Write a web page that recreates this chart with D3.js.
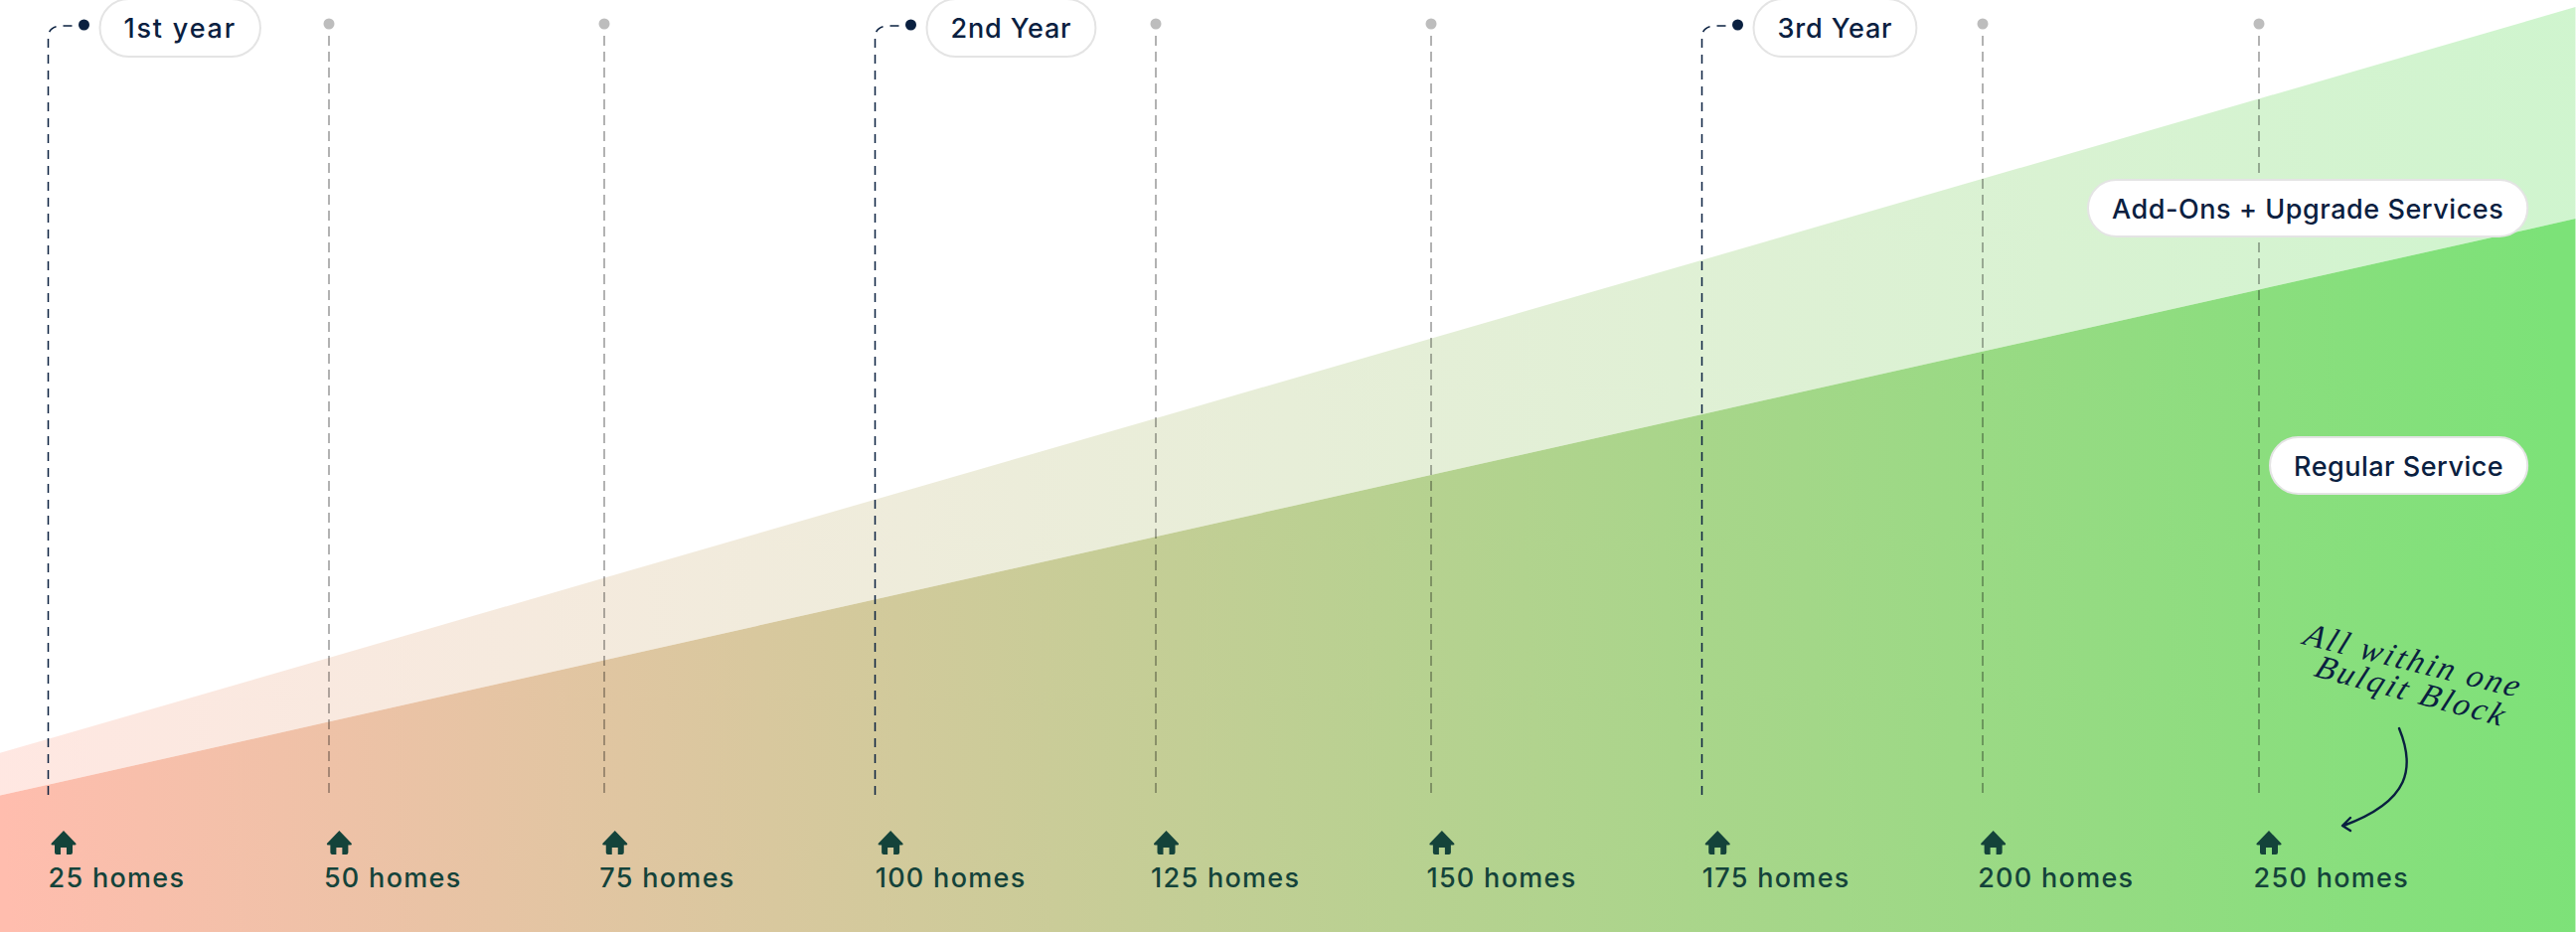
<!DOCTYPE html>
<html><head><meta charset="utf-8">
<script src="https://cdn.jsdelivr.net/npm/d3@7"></script>
<style>html,body{margin:0;padding:0;background:#fff}svg{display:block}text{font-family:Inter,"Noto Sans",sans-serif}</style>
</head><body><div id="c"></div>
<script>
const homeLabels = ["25 homes","50 homes","75 homes","100 homes","125 homes","150 homes","175 homes","200 homes","250 homes"];
const yearLabels = {0:"1st year",3:"2nd Year",6:"3rd Year"};
// positions along the category axis (index of tick), including the two chart edges
const stepPositions = [-0.177,0,1,2,3,4,5,6,7,8,9.168];
const regularService = [137.3,148.3,210.4,272.6,334.7,396.8,459.0,521.1,583.2,645.3,717.9];
const withAddOns = [180,194.2,274.6,354.9,435.3,515.6,596,676.3,756.7,837,930.9];
const seriesLabels = ["Add-Ons + Upgrade Services","Regular Service"];

const W=2592,H=938;
const navy="#0a2040",green="#14433a",grey="#000";
const x=d3.scaleLinear().domain([0,8]).range([48.5,2267.5]);
const y=d3.scaleLinear().domain([0,938]).range([938,0]);
const svg=d3.select("#c").append("svg").attr("width",W).attr("height",H).attr("viewBox",`0 0 ${W} ${H}`);
const grad=svg.append("defs").append("linearGradient").attr("id","g").attr("gradientUnits","userSpaceOnUse")
  .attr("x1",0).attr("y1",800).attr("x2",W).attr("y2",620);
grad.append("stop").attr("offset",0).attr("stop-color","#ffbdae");
grad.append("stop").attr("offset",1).attr("stop-color","#7ce278");

const pts=stepPositions.map((p,i)=>({p,r:regularService[i],t:withAddOns[i]}));
svg.append("path").datum(pts).attr("fill","url(#g)").attr("opacity",0.36)
  .attr("d",d3.area().x(d=>x(d.p)).y0(d=>y(d.r)).y1(d=>y(d.t)));
svg.append("path").datum(pts).attr("fill","url(#g)")
  .attr("d",d3.area().x(d=>x(d.p)).y0(y(0)).y1(d=>y(d.r)));

function pill(parent,label,px,py,h,ls){
  const g=parent.append("g");
  const r=g.append("rect");
  const t=g.append("text").attr("x",px+24).attr("y",py+h/2+10).attr("font-size",27).attr("font-weight",500)
    .attr("letter-spacing",ls).attr("fill",navy).text(label);
  const w=t.node().getComputedTextLength();
  r.attr("x",px).attr("y",py).attr("width",w+48).attr("height",h).attr("rx",h/2)
    .attr("fill","#fff").attr("stroke","#e4e4e4").attr("stroke-width",2);
}

homeLabels.forEach((lab,i)=>{
  const yr=yearLabels[i];
  const g=svg.append("g");
  if(yr){
    const lx=Math.round(x(i))-0.5;
    g.append("path").attr("fill","none").attr("stroke",navy).attr("stroke-width",1.5).attr("stroke-dasharray","9 7")
      .attr("d",`M${lx},800V38Q${lx},26 ${lx+14},26H${lx+30}`);
    g.append("circle").attr("cx",lx+36).attr("cy",25).attr("r",5.5).attr("fill",navy);
    pill(g,yr,lx+52,-1,58,i===0?1.8:0.85);
  } else {
    const lx=Math.round(x(i))+5;
    g.append("line").attr("x1",lx).attr("x2",lx).attr("y1",36).attr("y2",800)
      .attr("stroke",grey).attr("stroke-opacity",0.3).attr("stroke-width",2).attr("stroke-dasharray","10 6");
    g.append("circle").attr("cx",lx).attr("cy",24).attr("r",5.5).attr("fill","#bdbdbd");
  }
  svg.append("path").attr("transform",`translate(${x(i)+15.5},848)`).attr("fill",green)
    .attr("d","M0,-12L12.5,1Q13,2.5 11,2.5H9V10Q9,12 7,12H3V5H-3V12H-7Q-9,12 -9,10V2.5H-11Q-13,2.5 -12.5,1Z");
  svg.append("text").attr("x",x(i)).attr("y",893).attr("font-size",27).attr("font-weight",500)
    .attr("letter-spacing",1.3).attr("fill",green).text(lab);
});

pill(svg,seriesLabels[0],2101,181,57,0.55);
pill(svg,seriesLabels[1],2284,440,57,0.5);

// handwritten note
const note=[["All within one",2316,648,14],["Bulqit Block",2327,680,15]];
note.forEach(([s,a,b,r])=>svg.append("text").attr("transform",`translate(${a},${b}) rotate(${r}) skewX(-8)`)
  .attr("font-size",33).attr("font-style","italic").style("font-family","'Liberation Serif',serif")
  .attr("letter-spacing",2.8).attr("fill",navy).text(s));
svg.append("path").attr("fill","none").attr("stroke",navy).attr("stroke-width",2.4).attr("stroke-linecap","round").attr("stroke-linejoin","round")
  .attr("d","M2414,733C2430,772 2426,806 2358,831M2365,823L2357,831L2365,836");
</script></body></html>
